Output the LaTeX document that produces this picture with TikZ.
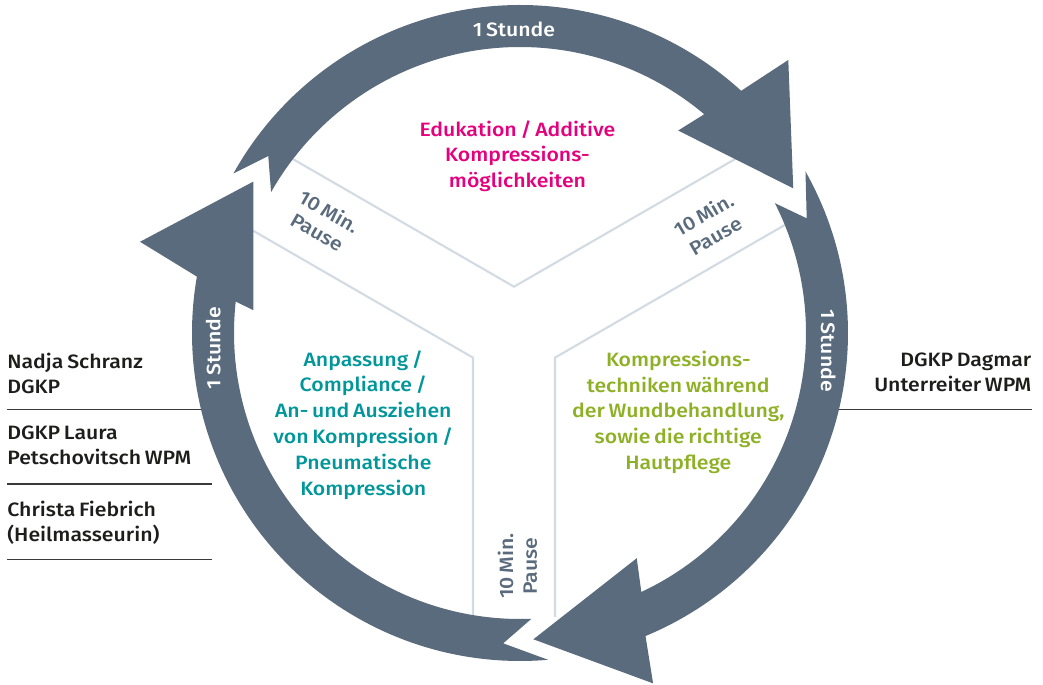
\documentclass[tikz,border=0pt]{standalone}
\usepackage{fontspec}
\setmainfont{Fira Sans Medium}[FakeStretch=1.1,WordSpace=0.7]
\usepackage{tikz}
\definecolor{ringgray}{HTML}{596B7C}
\definecolor{edupink}{HTML}{E5007D}
\definecolor{fitteal}{HTML}{00969A}
\definecolor{techgreen}{HTML}{8DB024}
\definecolor{bandgray}{HTML}{D3DBE2}
\definecolor{persontext}{HTML}{1D1D1B}
\definecolor{personrule}{HTML}{3A3A3A}
\tikzset{ringarrow/.style={fill=ringgray,draw=none}}
\tikzset{bandline/.style={draw=bandgray,line width=1.2pt}}
\tikzset{hour/.style={white,inner sep=0pt,font=\fontsize{11}{14}\selectfont}}
\tikzset{pause/.style={ringgray,align=center,inner sep=0pt,font=\fontsize{11}{13.5}\selectfont}}
\tikzset{topic/.style={align=center,inner sep=0pt,font=\fontsize{11}{14.7}\selectfont}}
\tikzset{person/.style={persontext,inner sep=0pt,font=\fontsize{11}{14.2}\selectfont}}
\tikzset{personline/.style={draw=personrule,line width=0.7pt}}

\begin{document}
\begin{tikzpicture}[x=0.02cm,y=0.02cm]
    \useasboundingbox (-520,-352) rectangle (523,333);

    \coordinate (topv) at (-6,46.3);
    \coordinate (leftv) at (-47,-24.65);
    \coordinate (rightv) at (35,-24.65);

    \begin{scope}
        \clip (0,0) circle (286);
        \draw[bandline] (topv) ++(150:400) -- (topv) -- ++(30:400);
        \draw[bandline] (leftv) ++(150:400) -- (leftv) -- ++(270:400);
        \draw[bandline] (rightv) ++(30:400) -- (rightv) -- ++(270:400);
    \end{scope}

    \draw[personline] (-513,-76.3) -- (-308,-76.3);
    \draw[personline] (-513,-151) -- (-308,-151);
    \draw[personline] (-513,-226.3) -- (-308,-226.3);
    \draw[personline] (310,-76.3) -- (511.7,-76.3);

    \fill[ringarrow] (150.9:328) arc[start angle=150.9, end angle=47.6, radius=328]
        -- (45.5:382.8) -- (27.9:309.2) -- (52:256.9) -- (49.9:286)
        arc[start angle=49.9, end angle=150.5, radius=286] -- (144.9:307.7) -- cycle;

    \fill[ringarrow] (29.5:328) arc[start angle=29.5, end angle=-67.5, radius=328]
        -- (-69.2:374.8) -- (-87.5:306.6) -- (-62.6:253.7) -- (-64.9:286)
        arc[start angle=-64.9, end angle=27, radius=286] -- (21.8:308.8) -- cycle;

    \fill[ringarrow] (-85.1:328) arc[start angle=-85.1, end angle=-189.9, radius=328]
        -- (166.5:390.8) -- (150.4:306.6) -- (175.1:267.7) -- (173.7:286)
        arc[start angle=173.7, end angle=272.3, radius=286] -- (-93.1:310.8) -- cycle;

    \node[hour] (hourtop) at (-6,304) {1 Stunde};
    \node[hour,rotate=90] (hourleft) at (-306.7,-15) {1 Stunde};
    \node[hour,rotate=-90] (hourright) at (308.3,-17.8) {1 Stunde};

    \node[pause,rotate=-30] (pauseleft) at (-196.7,111.3) {10 Min.\\Pause};
    \node[pause,rotate=30] (pauseright) at (189.3,108) {10 Min.\\Pause};
    \node[pause,rotate=90] (pausebottom) at (-2.5,-233) {10 Min.\\Pause};

    \node[topic,edupink] (edu) at (-2.5,176.8)
    {Edukation / Additive\\Kompressions-\\möglichkeiten};

    \node[topic,fitteal] (fit) at (-156.7,-91.9)
    {Anpassung /\\Compliance /\\An- und Ausziehen\\von Kompression /\\Pneumatische\\Kompression};

    \node[topic,techgreen] (tech) at (158.3,-79.4)
    {Kompressions-\\techniken während\\der Wundbehandlung,\\sowie die richtige\\Hautpflege};

    \node[person,align=left,anchor=north west] (nadja) at (-513,-19.7)
    {Nadja Schranz\\DGKP};

    \node[person,align=left,anchor=north west] (laura) at (-513,-93)
    {DGKP Laura\\Petschovitsch WPM};

    \node[person,align=left,anchor=north west] (christa) at (-513,-168)
    {Christa Fiebrich\\(Heilmasseurin)};

    \node[person,align=right,anchor=north east] (dagmar) at (511.7,-19.7)
    {DGKP Dagmar\\Unterreiter WPM};
\end{tikzpicture}
\end{document}
